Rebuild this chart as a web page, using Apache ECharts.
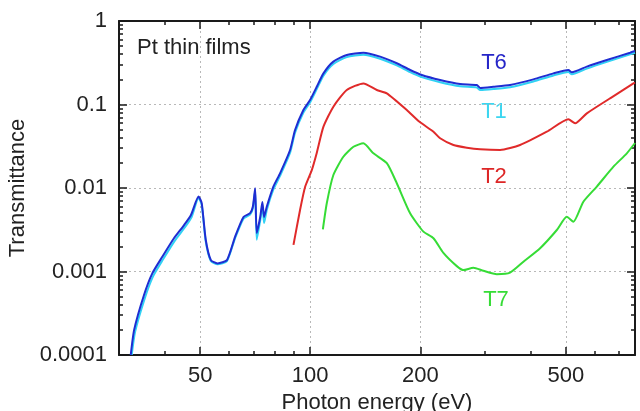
<!DOCTYPE html>
<html><head><meta charset="utf-8">
<script src="https://cdn.jsdelivr.net/npm/echarts@6/dist/echarts.min.js"></script>
<style>html,body{margin:0;padding:0;background:#fff}#c{width:640px;height:411px}</style>
</head><body><div id="c"></div>
<script>
// ---- data (photon energy in eV, transmittance) ----
const energyT6 = [32.3,33.0,35.1,37.0,39.4,42.4,45.2,47.2,49.5,50.5,51.8,53.5,55.8,59.2,62.3,65.7,68.5,69.7,70.7,71.4,73.0,74.0,74.8,76.1,79.3,82.7,88.1,90.9,95.8,99.9,104.2,108.7,115.7,125.9,139.8,155.3,172.5,187.6,201.9,226.6,257.0,285.5,291.5,316.9,352.0,407.7,462.5,508.3,519.3,570.7,647.3,749.6,773];
const transT6 = [0.0001,0.0002,0.00052,0.00095,0.0015,0.0025,0.0036,0.00475,0.0079,0.0066,0.0024,0.00137,0.00125,0.00137,0.0026,0.0045,0.0050,0.0060,0.0099,0.0029,0.0045,0.0068,0.0045,0.0060,0.0104,0.015,0.0285,0.0495,0.086,0.113,0.163,0.236,0.326,0.392,0.417,0.374,0.312,0.259,0.226,0.197,0.176,0.171,0.158,0.163,0.171,0.200,0.236,0.259,0.243,0.284,0.341,0.417,0.437];

const energyT1 = [32.5,33.2,35.3,37.2,39.6,42.6,45.4,47.4,49.5,50.5,51.8,53.5,55.8,59.2,62.3,65.7,68.5,69.7,70.7,71.4,73.0,74.0,74.8,76.1,79.3,82.7,88.1,90.9,95.8,99.9,104.2,108.7,115.7,125.9,139.8,155.3,172.5,187.6,201.9,226.6,257.0,285.5,291.5,316.9,352.0,407.7,462.5,508.3,519.3,570.7,647.3,749.6,773];
const transT1 = [0.0001,0.00019,0.00048,0.00088,0.0014,0.00233,0.00337,0.0045,0.0076,0.0063,0.0023,0.00133,0.00122,0.00133,0.0025,0.0043,0.0048,0.0057,0.0092,0.0024,0.0041,0.0062,0.0038,0.0055,0.0096,0.0140,0.0265,0.046,0.080,0.106,0.153,0.222,0.306,0.369,0.394,0.353,0.294,0.244,0.213,0.185,0.165,0.160,0.149,0.153,0.161,0.189,0.223,0.245,0.230,0.269,0.324,0.398,0.416];

const energyT2 = [90.0,93.8,96.9,101.0,104.2,108.7,115.7,125.9,139.8,152.1,162.0,183.7,199.0,217.3,226.6,246.4,268.1,291.5,330.6,374.9,443.6,508.3,530.2,570.7,660.9,765.4,773];
const transT2 = [0.00208,0.00545,0.0104,0.0164,0.0263,0.0542,0.0941,0.149,0.179,0.149,0.136,0.0859,0.062,0.0472,0.0394,0.0327,0.0304,0.0291,0.0285,0.0327,0.0472,0.0665,0.0596,0.0784,0.1187,0.179,0.183];

const energyT7 = [108.3,111.0,115.7,123.2,131.3,139.8,148.9,162.0,172.5,187.6,204.0,217.3,231.3,251.7,262.4,279.4,297.6,323.8,352.0,382.9,425.3,472.5,503.1,524.6,558.5,607.8,674.9,734.2,773];
const transT7 = [0.0032,0.00656,0.0143,0.0237,0.0312,0.0343,0.026,0.0198,0.0114,0.00498,0.0030,0.0025,0.00167,0.00116,0.00104,0.00111,0.00102,0.00093,0.00097,0.00131,0.0019,0.00314,0.00453,0.00395,0.00685,0.0104,0.018,0.026,0.0346];

const xMajorTicks = [50,100,200,500];
const xTickLabels = ['50','100','200','500'];
const xMinorTicks = [40,60,70,80,90,300,400,600,700];
const yMajorTicks = [0.0001,0.001,0.01,0.1,1];
const yTickLabels = ['0.0001','0.001','0.01','0.1','1'];
const yMinorTicks = [0.0002,0.0003,0.0004,0.0005,0.0006,0.0007,0.0008,0.0009,
  0.002,0.003,0.004,0.005,0.006,0.007,0.008,0.009,
  0.02,0.03,0.04,0.05,0.06,0.07,0.08,0.09,
  0.2,0.3,0.4,0.5,0.6,0.7,0.8,0.9];

const zip = (xs, ys) => xs.map((x, i) => [x, ys[i]]);
const labelFor = (ticks, labels) => v => {
  for (let i = 0; i < ticks.length; i++) {
    if (Math.abs(Math.log10(v) - Math.log10(ticks[i])) < 1e-6) return labels[i];
  }
  return '';
};

const FONT = 'Liberation Sans, Arial, sans-serif';
const X_MIN = 30, X_MAX = 773, Y_MIN = 0.0001, Y_MAX = 1;
const axisLine = { show: true, onZero: false, lineStyle: { color: '#1a1a1a', width: 2 } };
const split = { show: true, lineStyle: { color: '#b8b8b8', type: [2, 3], width: 1 } };

function xAx(pos, ticks, len, main) {
  return {
    type: 'log', min: X_MIN, max: X_MAX, position: pos,
    axisLine: main ? axisLine : { show: false },
    axisTick: { show: true, inside: true, length: len, customValues: ticks, lineStyle: { color: '#1a1a1a', width: 1.5 } },
    axisLabel: (main && pos === 'bottom') ? { show: true, customValues: xMajorTicks, formatter: labelFor(xMajorTicks, xTickLabels), fontSize: 22, fontFamily: FONT, color: '#222', margin: 10 } : { show: false },
    splitLine: (main && pos === 'bottom') ? split : { show: false },
    minorTick: { show: false },
    name: (main && pos === 'bottom') ? 'Photon energy (eV)' : '',
    nameLocation: 'middle', nameGap: 33,
    nameTextStyle: { fontSize: 22, fontFamily: FONT, color: '#222' }
  };
}
function yAx(pos, ticks, len, main) {
  return {
    type: 'log', min: Y_MIN, max: Y_MAX, position: pos,
    axisLine: main ? axisLine : { show: false },
    axisTick: { show: true, inside: true, length: len, customValues: ticks, lineStyle: { color: '#1a1a1a', width: 1.5 } },
    axisLabel: (main && pos === 'left') ? { show: true, customValues: yMajorTicks, formatter: labelFor(yMajorTicks, yTickLabels), fontSize: 22, fontFamily: FONT, color: '#222', margin: 12 } : { show: false },
    splitLine: (main && pos === 'left') ? split : { show: false },
    minorTick: { show: false },
    name: (main && pos === 'left') ? 'Transmittance' : '',
    nameLocation: 'middle', nameGap: 83,
    nameTextStyle: { fontSize: 22, fontFamily: FONT, color: '#222' }
  };
}

const chart = echarts.init(document.getElementById('c'), null, { renderer: 'canvas' });
const lineSeries = (name, data, color) => ({
  name, type: 'line', data, showSymbol: false, symbol: 'none',
  smooth: 0.2,
  lineStyle: { color, width: 2 }, itemStyle: { color }, z: 3, clip: true
});
chart.setOption({
  animation: false,
  backgroundColor: '#fff',
  grid: { left: 119, top: 21, right: 5, bottom: 56, containLabel: false, outerBoundsMode: 'none' },
  xAxis: [
    xAx('bottom', xMajorTicks, 8, true),
    xAx('bottom', xMinorTicks, 4, false),
    xAx('top', xMajorTicks, 8, true),
    xAx('top', xMinorTicks, 4, false)
  ],
  yAxis: [
    yAx('left', yMajorTicks, 8, true),
    yAx('left', yMinorTicks, 4, false),
    yAx('right', yMajorTicks, 8, true),
    yAx('right', yMinorTicks, 4, false)
  ],
  series: [
    lineSeries('T1', zip(energyT1, transT1), '#30d2f4'),
    lineSeries('T6', zip(energyT6, transT6), '#1f2dd2'),
    lineSeries('T2', zip(energyT2, transT2), '#e02a2a'),
    lineSeries('T7', zip(energyT7, transT7), '#36dc36')
  ],
  graphic: [
    { type: 'text', left: 137, top: 37, style: { text: 'Pt thin films', fontSize: 22, fontFamily: FONT, fill: '#222' } },
    { type: 'text', x: 494, y: 63, style: { text: 'T6', fontSize: 22, fontFamily: FONT, fill: '#2626c8', align: 'center', verticalAlign: 'middle' } },
    { type: 'text', x: 494, y: 112, style: { text: 'T1', fontSize: 22, fontFamily: FONT, fill: '#3cd6f0', align: 'center', verticalAlign: 'middle' } },
    { type: 'text', x: 494, y: 177, style: { text: 'T2', fontSize: 22, fontFamily: FONT, fill: '#dd2626', align: 'center', verticalAlign: 'middle' } },
    { type: 'text', x: 496, y: 300, style: { text: 'T7', fontSize: 22, fontFamily: FONT, fill: '#36dc36', align: 'center', verticalAlign: 'middle' } }
  ]
});
</script>
</body></html>
